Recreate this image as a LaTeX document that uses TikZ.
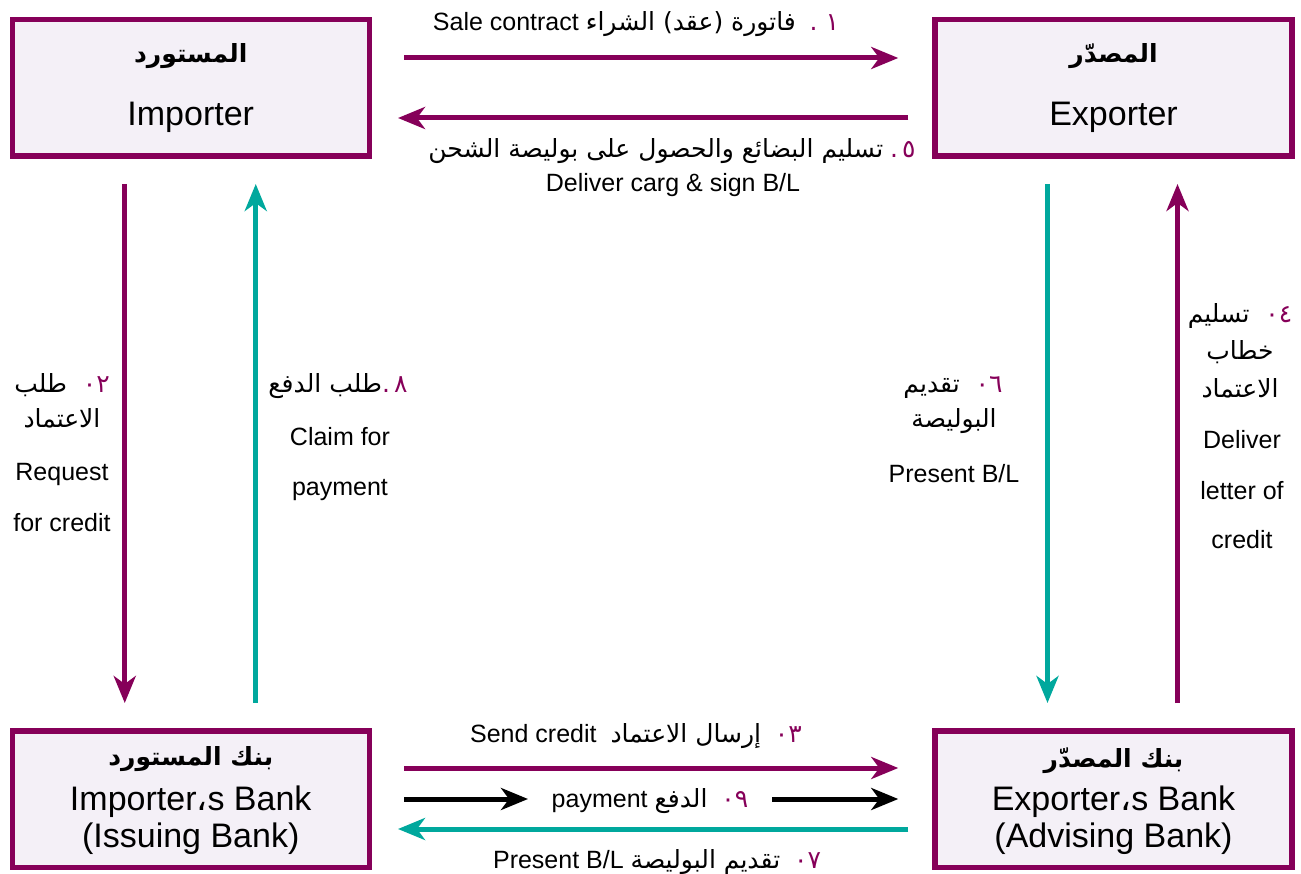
\documentclass[tikz,border=0pt]{standalone}
\usepackage{fontspec}
\setmainfont{Liberation Sans}
\newfontfamily\arabicfont[Script=Arabic]{DejaVu Sans}
\TeXXeTstate=1
\usetikzlibrary{arrows.meta}

\definecolor{plum}{RGB}{134,0,89}
\definecolor{tealc}{RGB}{0,168,157}
\definecolor{boxfill}{RGB}{244,240,247}

% right-to-left Arabic run, and the purple step number
\newcommand\artxt[1]{{\arabicfont\beginR #1\endR}}
\newcommand\stepno[1]{{\arabicfont\color{plum}#1}}

\begin{document}
\begin{tikzpicture}[x=1pt,y=-1pt,
  party/.style={draw=plum, line width=5.5pt, fill=boxfill,
    minimum width=357pt, minimum height=136.5pt, inner sep=0pt},
  boxar/.style={font=\arabicfont\bfseries\fontsize{25}{30}\selectfont, anchor=base, inner sep=0pt},
  boxen/.style={font=\fontsize{34}{40}\selectfont, anchor=base, inner sep=0pt},
  lbl/.style={font=\fontsize{25}{30}\selectfont, anchor=base, inner sep=0pt},
  lblar/.style={font=\arabicfont\fontsize{25}{30}\selectfont, anchor=base, inner sep=0pt},
  tip/.style={-{Stealth[length=27pt,width=22pt,inset=8pt]}},
  parrow/.style={draw=plum, line width=5pt, tip},
  tarrow/.style={draw=tealc, line width=5pt, tip},
  barrow/.style={draw=black, line width=5pt, tip},
]
\useasboundingbox (0,0) rectangle (1301,874);

% the four parties
\node[party] (imp)   at (190.75,88)  {};
\node[party] (exp)   at (1113.5,88)  {};
\node[party] (ibank) at (190.75,799) {};
\node[party] (ebank) at (1113.5,799) {};

\node[boxar] (impAr) at (190.75,63) {\artxt{المستورد}};
\node[boxen] (impEn) at (190.75,126) {Importer};
\node[boxar] (expAr) at (1113.5,63) {\artxt{المصدّر}};
\node[boxen] (expEn) at (1113.5,126) {Exporter};

\node[boxar] (ibAr)  at (190.75,765) {\artxt{بنك المستورد}};
\node[boxen] (ibEn1) at (190.75,810) {Importer{\arabicfont ،}s Bank};
\node[boxen] (ibEn2) at (190.75,847) {(Issuing Bank)};
\node[boxar] (ebAr)  at (1113.5,767) {\artxt{بنك المصدّر}};
\node[boxen] (ebEn1) at (1113.5,810) {Exporter{\arabicfont ،}s Bank};
\node[boxen] (ebEn2) at (1113.5,847) {(Advising Bank)};

% importer <-> exporter
\draw[parrow, shorten <=32pt, shorten >=34pt] ([yshift=30pt]imp.east) -- ([yshift=30pt]exp.west);
\draw[parrow, shorten <=24pt, shorten >=26pt] ([yshift=-30pt]exp.west) -- ([yshift=-30pt]imp.east);

\node[lbl] (l1) at (636,31) {Sale contract \artxt{فاتورة (عقد) الشراء}\ \ \stepno{.\ ١}};
\node[lbl] (l5a) at (672,158) {\artxt{تسليم البضائع والحصول على بوليصة الشحن}\ \stepno{.\,٥}};
\node[lbl] (l5b) at (673,192) {Deliver carg \& sign B/L};

% importer <-> issuing bank
\draw[parrow, shorten <=25pt, shorten >=25pt] ([xshift=-66pt]imp.south) -- ([xshift=-66pt]ibank.north);
\draw[tarrow, shorten <=25pt, shorten >=25pt] ([xshift=65pt]ibank.north) -- ([xshift=65pt]imp.south);

\node[lblar] (l2a) at (62,392) {\artxt{طلب}\ \ \stepno{٠٢}};
\node[lblar] (l2b) at (62,428) {\artxt{الاعتماد}};
\node[lbl]   (l2c) at (62,480) {Request};
\node[lbl]   (l2d) at (62,531) {for credit};

\node[lblar] (l8a) at (338,392) {\artxt{طلب الدفع}\stepno{.\,٨}};
\node[lbl]   (l8b) at (340,445) {Claim for};
\node[lbl]   (l8c) at (340,495) {payment};

% exporter <-> advising bank
\draw[tarrow, shorten <=25pt, shorten >=25pt] ([xshift=-66pt]exp.south) -- ([xshift=-66pt]ebank.north);
\draw[parrow, shorten <=25pt, shorten >=25pt] ([xshift=64pt]ebank.north) -- ([xshift=64pt]exp.south);

\node[lblar] (l6a) at (953,392) {\artxt{تقديم}\ \ \stepno{٠٦}};
\node[lblar] (l6b) at (954,428) {\artxt{البوليصة}};
\node[lbl]   (l6c) at (954,482) {Present B/L};

\node[lblar] (l4a) at (1240,323) {\artxt{تسليم}\ \ \stepno{٠٤}};
\node[lblar] (l4b) at (1240,360) {\artxt{خطاب}};
\node[lblar] (l4c) at (1240,397) {\artxt{الاعتماد}};
\node[lbl]   (l4d) at (1242,448) {Deliver};
\node[lbl]   (l4e) at (1242,499) {letter of};
\node[lbl]   (l4f) at (1242,548) {credit};

% issuing bank <-> advising bank
\draw[parrow, shorten <=32pt, shorten >=34pt] ([yshift=31pt]ibank.east) -- ([yshift=31pt]ebank.west);
\coordinate (pay1) at (528,799);
\coordinate (pay2) at (772,799);
\draw[barrow, shorten <=32pt] (ibank.east) -- (pay1);
\draw[barrow, shorten >=34pt] (pay2) -- (ebank.west);
\draw[tarrow, shorten <=24pt, shorten >=26pt] ([yshift=-30pt]ebank.west) -- ([yshift=-30pt]ibank.east);

\node[lbl] (l3) at (636,742) {Send credit \ \artxt{إرسال الاعتماد}\ \ \stepno{٠٣}};
\node[lbl] (l9) at (650,807) {payment \artxt{الدفع}\ \ \stepno{٠٩}};
\node[lbl] (l7) at (657,868) {Present B/L \artxt{تقديم البوليصة}\ \ \stepno{٠٧}};
\end{tikzpicture}
\end{document}
